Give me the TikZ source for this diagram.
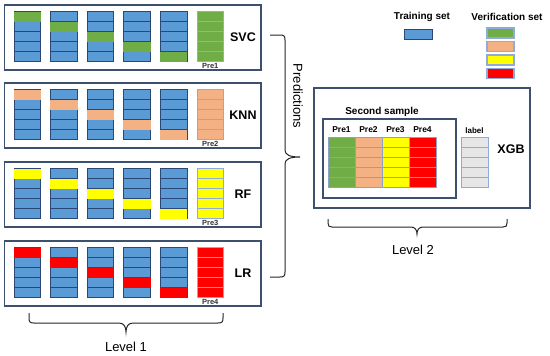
\documentclass[tikz,border=0pt]{standalone}
\usepackage{fontspec}
\setmainfont{Liberation Sans}
\definecolor{blueF}{HTML}{5B9BD5}
\definecolor{blueD}{HTML}{2B4775}
\definecolor{lightB}{HTML}{8FAADC}
\definecolor{panelB}{HTML}{3E5070}
\definecolor{vgreen}{HTML}{70AD47}
\definecolor{vorange}{HTML}{F4B183}
\definecolor{vyellow}{HTML}{FFFF00}
\definecolor{vred}{HTML}{FF0000}
\definecolor{lgray}{HTML}{E6E6E6}
\begin{document}
\begin{tikzpicture}[x=1pt,y=-1pt,
  panel/.style={draw=panelB,line width=1.1pt,minimum width=256.5pt,minimum height=65pt,inner sep=0pt,outer sep=0pt},
  tcell/.style={draw=blueD,fill=blueF,line width=0.8pt},
  vcell/.style={draw=lightB,line width=0.8pt},
  mname/.style={font=\bfseries\fontsize{12.5}{14}\selectfont,inner sep=0pt},
  prelab/.style={font=\bfseries\fontsize{7.5}{8}\selectfont,text=black!80,inner sep=0pt},
  toplab/.style={font=\bfseries\fontsize{8.5}{10}\selectfont,inner sep=0pt},
  legtext/.style={font=\bfseries\fontsize{10}{12}\selectfont,inner sep=0pt},
  lvltext/.style={font=\fontsize{13}{15}\selectfont,inner sep=0pt},
  bracestyle/.style={draw=black!85,line width=1pt},
  box/.style={draw=panelB,line width=1.1pt,inner sep=0pt,outer sep=0pt}]
\useasboundingbox (0,0) rectangle (550,356);

% ---------- Level 1 panels ----------
\foreach \k/\T/\col/\name/\pre in {1/5/vgreen/SVC/Pre1, 2/83/vorange/KNN/Pre2, 3/162/vyellow/RF/Pre3, 4/241/vred/LR/Pre4} {
  \node[panel] (panel\k) at (132.75,\T+32.5) {};
  \foreach \i in {0,...,4} {
    \pgfmathsetmacro\cx{14+36.6*\i}
    \foreach \r in {0,...,4} {
      \draw[tcell] (\cx,\T+6.5+10*\r) rectangle ++(26.5,10);
    }
    \fill[\col] (\cx-0.4,\T+6.5+10*\i) rectangle ++(27.3,10);
  }
  \foreach \r in {0,...,4} {
    \draw[vcell,fill=\col] (197,\T+6.5+10*\r) rectangle ++(26.5,10);
  }
  \node[prelab] (pre\k) at (210.25,\T+61) {\pre};
  \node[mname] (m\k) at (243,\T+32) {\name};
}

% ---------- Predictions brace ----------
\coordinate (bt) at (270,35);
\coordinate (bb) at (270,277);
\draw[bracestyle] (bt) -- (280,35) .. controls (284,35) and (285,36) .. (285,40)
  -- (285,150) .. controls (285,155) and (290,157) .. (300,157)
  .. controls (290,157) and (285,159) .. (285,164)
  -- (285,272) .. controls (285,276) and (284,277) .. (280,277) -- (bb);
\node[lvltext,rotate=-90] (pred) at (298,96) {Predictions};

% ---------- Level 1 brace ----------
\coordinate (l1a) at (29,313);
\coordinate (l1b) at (223,313);
\draw[bracestyle] (l1a) -- (29,318) .. controls (29,322) and (30,323) .. (34,323)
  -- (119,323) .. controls (124,323) and (126,327) .. (126,332)
  .. controls (126,327) and (128,323) .. (133,323)
  -- (218,323) .. controls (222,323) and (223,322) .. (223,318) -- (l1b);
\node[lvltext] (lvl1) at (126,347) {Level 1};

% ---------- Legend ----------
\node[legtext] (trn) at (422,17) {Training set};
\node[legtext] (ver) at (507,17) {Verification set};
\draw[draw=blueD,fill=blueF,line width=0.9pt] (404,29) rectangle (432,39);
\foreach \c/\y in {vgreen/28, vorange/41.5, vyellow/55, vred/68.5} {
  \draw[draw=lightB,fill=\c,line width=1.1pt] (487,\y) rectangle ++(27,10);
}

% ---------- Level 2 ----------
\node[box,minimum width=216pt,minimum height=120pt] (outer) at (422,148) {};
\node[box,minimum width=133pt,minimum height=79pt] (inner) at (389.5,158.5) {};
\node[legtext] (ss) at (382,112) {Second sample};
\foreach \j/\c/\p in {0/vgreen/Pre1, 1/vorange/Pre2, 2/vyellow/Pre3, 3/vred/Pre4} {
  \pgfmathsetmacro\tx{328+27*\j}
  \foreach \r in {0,...,4} {
    \draw[draw=lightB!80!gray,fill=\c,line width=0.8pt] (\tx,137+10*\r) rectangle ++(27,10);
  }
  \node[toplab] (tp\j) at (\tx+13.5,129.5) {\p};
}
\foreach \r in {0,...,4} {
  \draw[draw=lightB,fill=lgray,line width=0.8pt] (461,137+10*\r) rectangle ++(27,10);
}
\node[toplab,font=\bfseries\fontsize{8}{9}\selectfont] (lab) at (474.5,131) {label};
\node[mname] (xgb) at (511,149) {XGB};

% ---------- Level 2 brace ----------
\coordinate (l2a) at (328,219);
\coordinate (l2b) at (507,219);
\draw[bracestyle] (l2a) -- (328,223) .. controls (328,226) and (329,227) .. (332,227)
  -- (411,227) .. controls (415,227) and (417,230) .. (417,234)
  .. controls (417,230) and (419,227) .. (423,227)
  -- (503,227) .. controls (506,227) and (507,226) .. (507,223) -- (l2b);
\node[lvltext] (lvl2) at (413,250) {Level 2};
\end{tikzpicture}
\end{document}
